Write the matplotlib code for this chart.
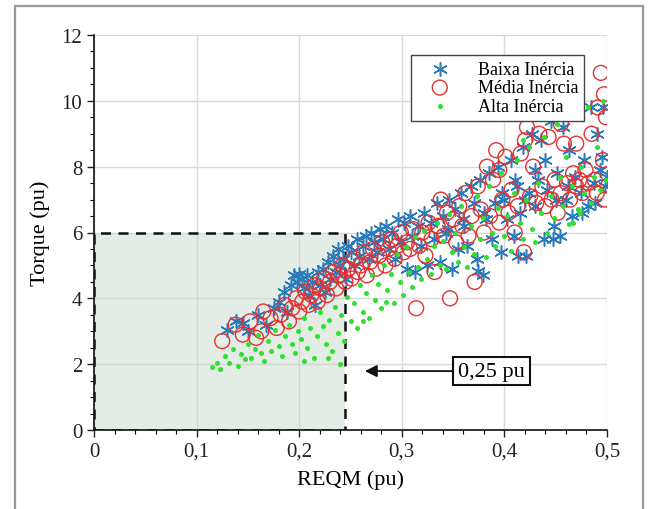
import matplotlib
matplotlib.use("Agg")
import matplotlib.pyplot as plt
from matplotlib.patches import Rectangle
from matplotlib.ticker import MultipleLocator

plt.rcParams['font.family'] = ['Liberation Serif', 'DejaVu Serif']

# ---- data ----
baixa_x = [0.130, 0.138, 0.145, 0.150, 0.160, 0.168, 0.175, 0.180, 0.185, 0.188, 0.192, 0.195, 0.198, 0.200,
           0.203, 0.205, 0.208, 0.210, 0.212, 0.215, 0.218, 0.220, 0.223, 0.225, 0.228, 0.230, 0.233, 0.236,
           0.238, 0.240, 0.243, 0.246, 0.248, 0.250, 0.253, 0.256, 0.258, 0.262, 0.265, 0.268, 0.270, 0.273,
           0.276, 0.279, 0.282, 0.285, 0.288, 0.290, 0.293, 0.296, 0.299, 0.302, 0.305, 0.308, 0.310, 0.313,
           0.316, 0.319, 0.322, 0.325, 0.328, 0.331, 0.334, 0.337, 0.340, 0.343, 0.346, 0.349, 0.352, 0.355,
           0.358, 0.361, 0.364, 0.367, 0.370, 0.373, 0.376, 0.379, 0.382, 0.385, 0.388, 0.391, 0.394, 0.397,
           0.400, 0.403, 0.406, 0.409, 0.412, 0.415, 0.418, 0.421, 0.424, 0.427, 0.430, 0.433, 0.436, 0.439,
           0.442, 0.445, 0.448, 0.451, 0.454, 0.457, 0.460, 0.463, 0.466, 0.469, 0.472, 0.475, 0.478, 0.481,
           0.484, 0.487, 0.490, 0.493, 0.496, 0.498, 0.500, 0.495, 0.488, 0.476, 0.462, 0.450, 0.440, 0.430,
           0.420, 0.410, 0.398, 0.380, 0.360, 0.345, 0.447, 0.374, 0.413]
baixa_y = [3.05, 3.30, 3.25, 3.00, 3.50, 3.20, 3.70, 3.90, 4.20, 3.60, 4.40, 4.70, 4.50, 4.75,
           4.60, 4.30, 4.70, 4.10, 4.50, 3.80, 4.80, 4.40, 4.90, 4.20, 5.10, 4.60, 5.30, 4.80,
           5.50, 5.00, 5.20, 4.60, 5.60, 5.40, 5.00, 5.80, 5.30, 5.60, 5.90, 5.20, 6.00, 5.70,
           5.40, 6.10, 5.80, 6.20, 5.50, 6.00, 5.20, 6.40, 5.70, 6.30, 4.90, 6.50, 5.90, 4.80,
           6.20, 5.60, 6.60, 5.00, 6.30, 5.80, 6.90, 5.10, 6.50, 6.00, 7.00, 4.90, 6.70, 5.50,
           7.20, 6.20, 5.60, 7.40, 6.90, 5.20, 7.60, 4.70, 6.40, 7.80, 5.80, 6.90, 8.00, 5.40,
           7.00, 6.40, 8.20, 5.90, 7.40, 6.60, 8.60, 5.30, 7.20, 9.00, 6.80, 7.60, 8.80, 5.80,
           7.30, 9.40, 6.20, 7.80, 5.90, 9.20, 7.00, 8.50, 6.50, 7.70, 9.60, 7.20, 8.20, 6.80,
           9.80, 7.50, 9.00, 7.90, 9.80, 7.40, 7.70, 8.30, 6.90, 6.60, 7.40, 7.00, 8.20, 7.90,
           7.00, 7.60, 7.20, 6.60, 6.40, 6.10, 5.80, 4.83, 5.30]

media_x = [0.125, 0.138, 0.145, 0.152, 0.158, 0.163, 0.165, 0.172, 0.178, 0.182, 0.186, 0.190, 0.193, 0.197,
           0.200, 0.203, 0.206, 0.209, 0.212, 0.215, 0.218, 0.221, 0.224, 0.227, 0.230, 0.233, 0.236, 0.239,
           0.242, 0.245, 0.248, 0.251, 0.254, 0.257, 0.260, 0.263, 0.266, 0.269, 0.272, 0.275, 0.278, 0.281,
           0.284, 0.287, 0.290, 0.293, 0.296, 0.299, 0.302, 0.305, 0.308, 0.311, 0.314, 0.317, 0.320, 0.323,
           0.326, 0.329, 0.332, 0.335, 0.338, 0.341, 0.344, 0.347, 0.350, 0.353, 0.356, 0.359, 0.362, 0.365,
           0.368, 0.371, 0.374, 0.377, 0.380, 0.383, 0.386, 0.389, 0.392, 0.395, 0.398, 0.401, 0.404, 0.407,
           0.410, 0.413, 0.416, 0.419, 0.422, 0.425, 0.428, 0.431, 0.434, 0.437, 0.440, 0.443, 0.446, 0.449,
           0.452, 0.455, 0.458, 0.461, 0.464, 0.467, 0.470, 0.473, 0.476, 0.479, 0.482, 0.485, 0.488, 0.491,
           0.494, 0.497, 0.499, 0.496, 0.498, 0.490, 0.470, 0.455, 0.420, 0.395]
media_y = [2.70, 3.20, 2.90, 3.30, 2.80, 3.00, 3.60, 3.40, 3.10, 3.50, 3.80, 3.30, 3.70, 4.00,
           3.60, 3.90, 4.20, 3.80, 4.10, 4.40, 3.90, 4.30, 4.60, 4.10, 4.50, 4.80, 4.30, 4.70,
           5.00, 4.50, 4.90, 4.60, 5.20, 4.80, 5.00, 5.40, 4.70, 5.10, 5.50, 4.90, 5.30, 5.70,
           5.00, 5.50, 5.80, 5.20, 5.60, 6.00, 5.40, 5.70, 5.50, 6.10, 3.70, 5.60, 6.00, 5.30,
           6.30, 5.80, 4.80, 6.20, 7.00, 5.90, 6.60, 4.00, 6.40, 5.70, 6.80, 6.20, 7.20, 5.90,
           6.50, 4.50, 7.40, 6.70, 6.00, 8.00, 6.50, 7.60, 8.50, 6.30, 7.00, 8.30, 6.60, 7.30,
           6.00, 6.80, 8.40, 5.40, 9.20, 7.10, 8.00, 6.90, 9.00, 7.40, 6.80, 8.90, 7.00, 7.60,
           6.60, 7.20, 8.70, 7.50, 7.00, 7.80, 7.40, 7.60, 7.20, 7.90, 7.50, 9.00, 7.60, 9.80,
           10.85, 10.20, 9.50, 8.20, 7.00, 7.20, 8.70, 9.30, 8.80, 7.90]

alta_x = [0.115, 0.120, 0.123, 0.128, 0.132, 0.135, 0.140, 0.143, 0.147, 0.150, 0.153, 0.157, 0.160, 0.163,
          0.166, 0.170, 0.173, 0.176, 0.180, 0.183, 0.186, 0.190, 0.193, 0.196, 0.199, 0.202, 0.205, 0.208,
          0.211, 0.214, 0.217, 0.220, 0.223, 0.226, 0.229, 0.232, 0.235, 0.238, 0.241, 0.244, 0.247, 0.250,
          0.253, 0.256, 0.259, 0.262, 0.265, 0.268, 0.271, 0.274, 0.277, 0.280, 0.283, 0.286, 0.289, 0.292,
          0.295, 0.298, 0.301, 0.304, 0.307, 0.310, 0.313, 0.316, 0.319, 0.322, 0.325, 0.328, 0.331, 0.334,
          0.337, 0.340, 0.343, 0.346, 0.349, 0.352, 0.355, 0.358, 0.361, 0.364, 0.367, 0.370, 0.373, 0.376,
          0.379, 0.382, 0.385, 0.388, 0.391, 0.394, 0.397, 0.400, 0.403, 0.406, 0.409, 0.412, 0.415, 0.418,
          0.421, 0.424, 0.427, 0.430, 0.433, 0.436, 0.439, 0.442, 0.445, 0.448, 0.451, 0.454, 0.457, 0.460,
          0.463, 0.466, 0.469, 0.472, 0.475, 0.478, 0.481, 0.484, 0.487, 0.490, 0.493, 0.496, 0.499,
          0.467, 0.474, 0.418, 0.240, 0.228, 0.205, 0.262, 0.285]
alta_y = [1.90, 2.05, 1.85, 2.25, 2.05, 2.45, 1.95, 2.30, 2.15, 2.60, 2.20, 2.45, 2.90, 2.35,
          2.10, 2.70, 2.40, 3.05, 2.55, 2.25, 2.85, 3.20, 2.60, 2.35, 3.00, 2.75, 3.40, 2.50,
          3.10, 2.20, 2.85, 3.60, 3.15, 2.60, 3.35, 2.40, 3.75, 2.95, 3.50, 2.70, 4.05, 3.30,
          3.85, 3.10, 4.40, 3.60, 4.15, 3.40, 4.70, 3.95, 4.45, 3.70, 5.00, 4.25, 4.75, 3.85,
          5.35, 4.50, 4.10, 5.55, 4.80, 4.35, 5.85, 4.95, 4.60, 6.05, 5.20, 4.75, 5.60, 6.30,
          5.00, 5.75, 4.90, 6.55, 5.40, 6.00, 5.10, 6.80, 5.55, 4.95, 6.20, 5.35, 7.10, 5.80,
          6.45, 5.25, 7.40, 6.00, 5.60, 6.75, 7.80, 5.90, 6.50, 5.45, 7.20, 8.20, 6.30, 5.80,
          7.00, 8.60, 6.10, 5.70, 7.50, 6.60, 8.90, 6.00, 7.10, 6.45, 9.30, 7.70, 6.80, 8.30,
          6.25, 7.40, 9.60, 6.70, 8.00, 7.20, 9.80, 6.90, 7.70, 8.60, 7.30, 10.00, 7.60,
          6.30, 6.60, 8.80, 2.00, 2.20, 2.10, 3.30, 3.90]

x_ticks = [0.0, 0.1, 0.2, 0.3, 0.4, 0.5]
x_tick_labels = ['0', '0,1', '0,2', '0,3', '0,4', '0,5']
y_ticks = [0, 2, 4, 6, 8, 10, 12]
region_x = 0.245   # limit of the shaded region
region_y = 6.0
annot_text = '0,25 pu'

# ---- figure ----
fig = plt.figure(figsize=(6.51, 5.10), dpi=100)
ax = fig.add_axes([94/651, 1 - 431/510, 513/651, 395/510])

ax.add_patch(Rectangle((0, 0), region_x, region_y, facecolor='#c4d6c9', alpha=0.45,
                       edgecolor='none', zorder=0.8))
ax.add_patch(Rectangle((0, 0), region_x, region_y, facecolor='none', edgecolor='#111111',
                       linestyle=(0, (4, 3)), linewidth=1.8, zorder=1.5))

ax.scatter(baixa_x, baixa_y, marker=(6, 2, 0), s=95, color='#2b7bba', linewidths=1.1,
           label='Baixa Inércia', zorder=3)
ax.scatter(media_x, media_y, marker='o', s=115, facecolors='none', edgecolors='#e23232',
           linewidths=1.0, label='Média Inércia', zorder=3.1)
ax.scatter(alta_x, alta_y, marker='o', s=13, color='#2fe02f', linewidths=0,
           label='Alta Inércia', zorder=3.2)

ax.set_xlim(0, 0.5)
ax.set_ylim(0, 12)
ax.set_xticks(x_ticks)
ax.set_xticklabels(x_tick_labels)
ax.set_yticks(y_ticks)
ax.xaxis.set_minor_locator(MultipleLocator(0.02))
ax.yaxis.set_minor_locator(MultipleLocator(0.5))
ax.tick_params(axis='both', which='major', direction='out', length=5, width=1, labelsize=15,
               colors='#222222')
ax.tick_params(axis='both', which='minor', direction='out', length=3, width=0.8)
ax.grid(True, which='major', color='#dadada', linewidth=1.0)
ax.set_axisbelow(True)
for s in ['top', 'right']:
    ax.spines[s].set_visible(False)
for s in ['left', 'bottom']:
    ax.spines[s].set_linewidth(1.2)
    ax.spines[s].set_color('#111111')

ax.set_xlabel('REQM (pu)', fontsize=16, labelpad=6)
ax.set_ylabel('Torque (pu)', fontsize=16, labelpad=8)

leg = ax.legend(loc='upper right', bbox_to_anchor=(0.972, 0.972), fontsize=13,
                frameon=True, fancybox=False, edgecolor='#444444', framealpha=1,
                borderpad=0.3, handletextpad=0.8, labelspacing=0.1, handlelength=2.6)
leg.get_frame().set_linewidth(1.0)

ax.annotate(annot_text, xy=(0.264, 1.79), xytext=(0.3875, 1.79),
            fontsize=16, ha='center', va='center',
            bbox=dict(boxstyle='square,pad=0.22', facecolor='white', edgecolor='#111111', linewidth=1.5),
            arrowprops=dict(arrowstyle='-|>', color='#111111', linewidth=1.3,
                            mutation_scale=18, shrinkA=0, shrinkB=0))

# outer figure frame
fig.add_artist(Rectangle((15/651, -0.02), (643 - 15)/651, 1 - 7/510 + 0.02,
                         transform=fig.transFigure, fill=False, edgecolor='#9a9a9a', linewidth=1.6))

fig.savefig('out.png', dpi=100)
